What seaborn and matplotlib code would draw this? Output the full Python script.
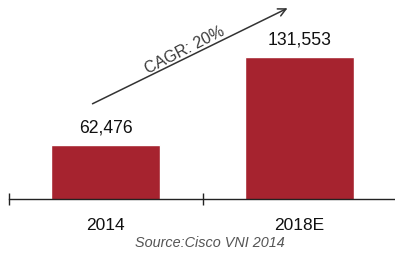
import numpy as np
import pandas as pd
import matplotlib
matplotlib.use("Agg")
import matplotlib.pyplot as plt
import seaborn as sns

# Datos
periodos = ['2014', '2018E']
valores = [62476, 131553]
etiquetas = ['62,476', '131,553']
texto_cagr = 'CAGR: 20%'
fuente = 'Source:Cisco VNI 2014'

df = pd.DataFrame({'periodo': periodos, 'valor': valores})

sns.set_style("white")
plt.rcParams['font.family'] = ['Liberation Sans', 'DejaVu Sans']

fig = plt.figure(figsize=(3.95, 2.55), dpi=100)
ax = fig.add_axes([8.5 / 395, 55 / 255, 388 / 395, 200 / 255])

sns.barplot(x='periodo', y='valor', data=df, color='#A6232F', width=0.56,
            saturation=1, ax=ax)

# Etiquetas de valores
for p, txt in zip(ax.patches, etiquetas):
    ax.annotate(txt, (p.get_x() + p.get_width() / 2, p.get_height()),
                xytext=(0, 7), textcoords='offset points',
                ha='center', va='bottom', fontsize=12.7, color='#111111')

ax.set_xlim(-0.5, 1.5)
ax.set_ylim(20000, 177000)
ax.set_xlabel('')
ax.set_ylabel('')
ax.set_yticks([])
for s in ['left', 'right', 'top']:
    ax.spines[s].set_visible(False)
ax.spines['bottom'].set_color('#222222')
ax.spines['bottom'].set_linewidth(1.0)

# Ticks en los limites de categoria
ax.set_xticks([-0.5, 0.5, 1.5], minor=True)
ax.tick_params(axis='x', which='minor', direction='inout', length=8,
               width=1.0, color='#222222', bottom=True)
ax.tick_params(axis='x', which='major', length=0, pad=13, labelsize=12.5,
               labelcolor='#111111')

# Flecha CAGR
ax.annotate('', xy=(290 / 395, 1 - 8 / 255), xytext=(90 / 395, 1 - 106 / 255),
            xycoords='figure fraction', textcoords='figure fraction',
            arrowprops=dict(arrowstyle='->', color='#333333', lw=1.1,
                            mutation_scale=14))
fig.text(185 / 395, 1 - 50 / 255, texto_cagr, rotation=27, ha='center',
         va='center', fontsize=11.5, color='#3a3a3a')

fig.text(210 / 395, 1 - 243 / 255, fuente, ha='center', va='center',
         fontsize=10.4, style='italic', color='#555555')

fig.savefig('out.png', dpi=100)
